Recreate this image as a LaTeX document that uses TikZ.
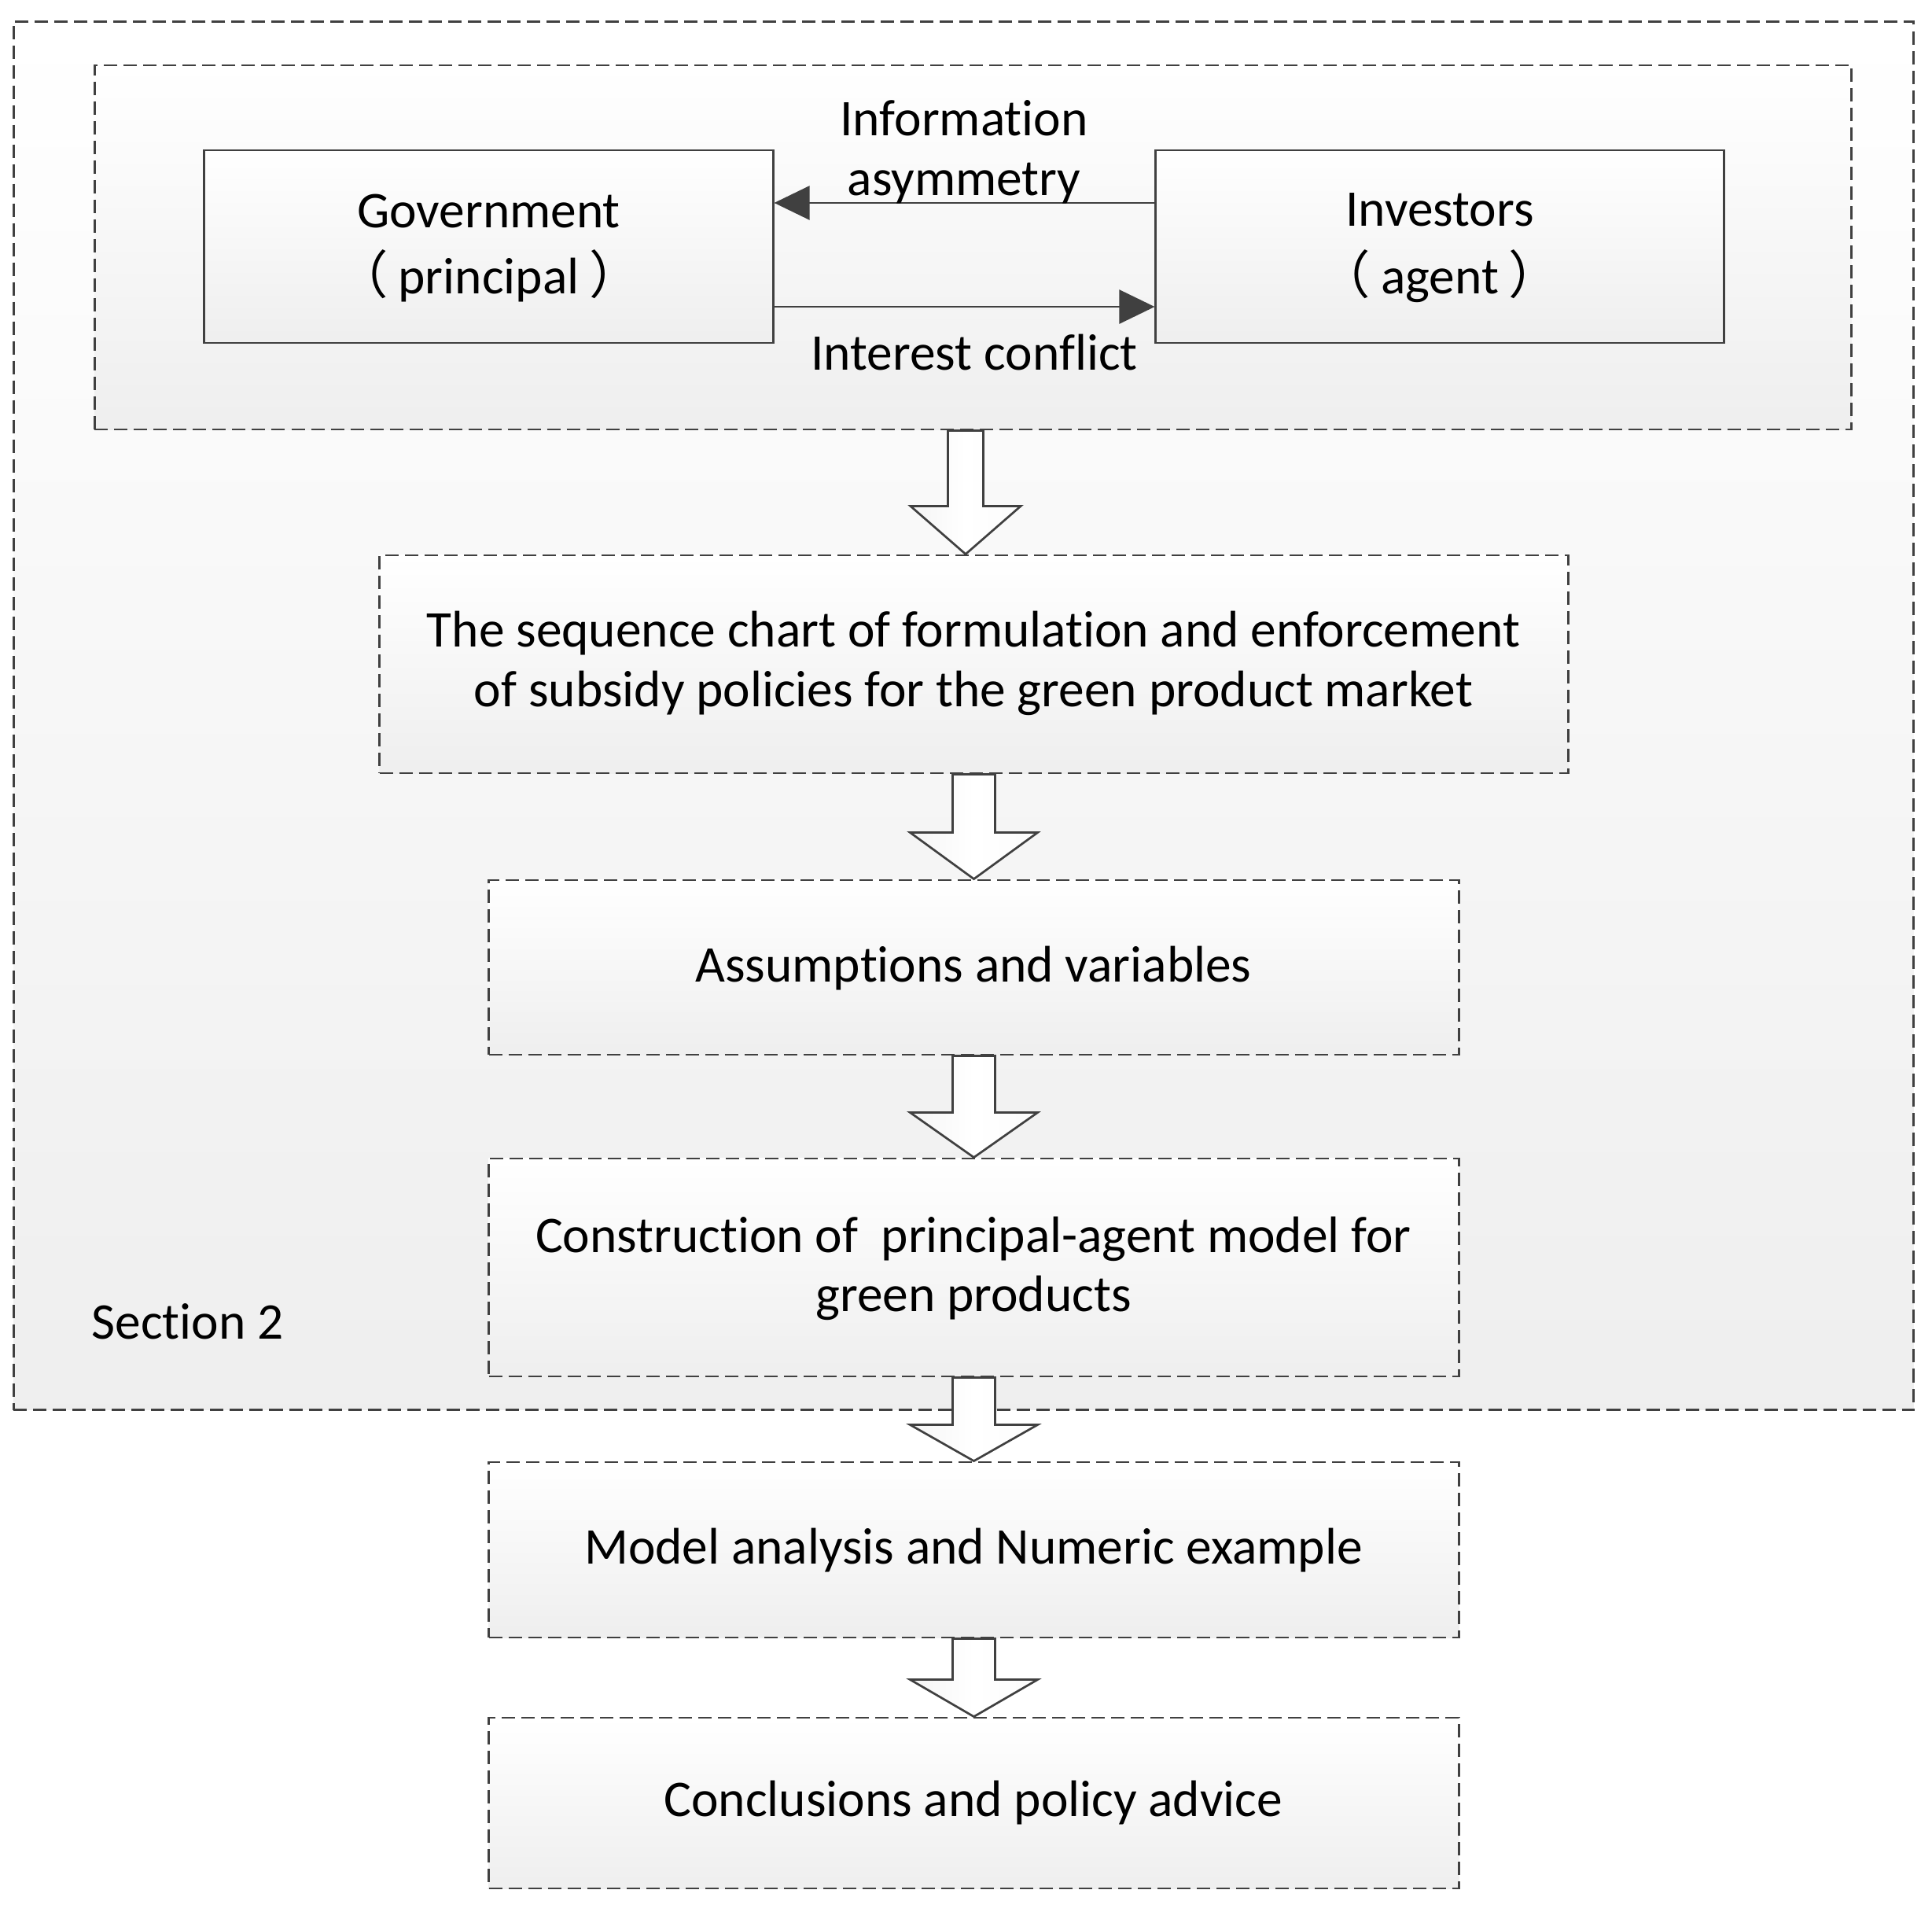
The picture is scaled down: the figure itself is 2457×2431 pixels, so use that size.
\documentclass[tikz,border=0pt]{standalone}
\usepackage{fontspec}
\setmainfont{Carlito}[Ligatures={NoCommon}]
\newfontfamily\cjk{Noto Sans CJK SC}
\usetikzlibrary{arrows.meta,calc}
\definecolor{lc}{HTML}{404040}
\tikzset{
  x=0.01cm, y=-0.01cm,
  dbox/.style={draw=lc, line width=0.027cm, dash pattern=on 0.17cm off 0.08cm,
    rectangle, inner sep=0, top color=white, bottom color=gray!13},
  sbox/.style={draw=lc, line width=0.027cm, rectangle, inner sep=0,
    top color=white, bottom color=gray!13},
  conn/.style={draw=lc, line width=0.027cm, -{Triangle[length=0.45cm,width=0.43cm]}},
  blk/.style={draw=lc, line width=0.027cm, line join=miter,
    left color=gray!8, right color=gray!3, middle color=white},
  txt/.style={inner sep=0, text=black, font=\fontsize{18.6pt}{21.34pt}\selectfont},
}
\newcommand\twolines[3][0pt]{\begin{tabular}[t]{@{}c@{}}#2\\[#1]#3\end{tabular}}
\newcommand\fwl{{\cjk （}\kern0.2em}
\newcommand\fwr{\kern0.2em{\cjk ）}}
\newcommand\blockarrow[5]{%
  \draw[blk] let \p1=(#1), \p2=(#2) in
    (\x1-#3,\y1) -- (\x1+#3,\y1) -- (\x1+#3,\y2+#5) -- (\x1+#4,\y2+#5)
    -- (\x1,\y2) -- (\x1-#4,\y2+#5) -- (\x1-#3,\y2+#5) -- cycle;}
\begin{document}
\begin{tikzpicture}
\useasboundingbox (0,0) rectangle (2457,2431);
% containers
\node[dbox, minimum width=24.15cm, minimum height=17.64cm] (sec) at (1225.5,910) {};
\node[dbox, minimum width=22.33cm, minimum height=4.63cm] (pa) at (1237.5,314.5) {};
% principal / agent
\node[sbox, minimum width=7.23cm, minimum height=2.45cm] (gov) at (621.5,313.5) {};
\node[sbox, minimum width=7.22cm, minimum height=2.45cm] (inv) at (1831,313.5) {};
\draw[conn] ([yshift=0.555cm]inv.west) -- ([yshift=0.555cm]gov.east);
\draw[conn] ([yshift=-0.765cm]gov.east) -- ([yshift=-0.765cm]inv.west);
% flow boxes
\node[dbox, minimum width=15.11cm, minimum height=2.77cm] (b2) at (1238.5,844.5) {};
\node[dbox, minimum width=12.33cm, minimum height=2.22cm] (b3) at (1238.5,1230) {};
\node[dbox, minimum width=12.33cm, minimum height=2.77cm] (b4) at (1238.5,1611.5) {};
\node[dbox, minimum width=12.33cm, minimum height=2.23cm] (b5) at (1238.5,1970.5) {};
\node[dbox, minimum width=12.33cm, minimum height=2.17cm] (b6) at (1238.5,2292.5) {};
% block arrows
\blockarrow{$(pa.south)+(-9.5,0)$}{b2.north}{0.225cm}{0.70cm}{0.61cm}
\blockarrow{b2.south}{b3.north}{0.27cm}{0.81cm}{0.59cm}
\blockarrow{b3.south}{b4.north}{0.27cm}{0.81cm}{0.57cm}
\blockarrow{b4.south}{b5.north}{0.27cm}{0.81cm}{0.46cm}
\blockarrow{b5.south}{b6.north}{0.27cm}{0.81cm}{0.47cm}
% texts
\node[txt, anchor=base] (tgov) at (621.5,290) {\twolines[1.4pt]{Government}{\fwl principal\fwr}};
\node[txt, anchor=base] (tinv) at (1831,288) {\twolines[2pt]{Investors}{\fwl agent\fwr}};
\node[txt, anchor=base] (tinfo) at (1226,173) {\twolines{Information}{asymmetry}};
\node[txt, anchor=base] (tint) at (1239,471) {Interest conflict};
\node[txt, anchor=base] (t2) at (1238,823) {\twolines{The sequence chart of formulation and enforcement}{of subsidy policies for the green product market}};
\node[txt, anchor=base] (t3) at (1238,1248) {Assumptions and variables};
\node[txt, anchor=base] (t4) at (1238,1592) {\twolines{Construction of \ principal-agent model for}{green products}};
\node[txt, anchor=base] (t5) at (1238,1988) {Model analysis and Numeric example};
\node[txt, anchor=base] (t6) at (1238,2309) {Conclusions and policy advice};
\node[txt, anchor=base west] (tsec) at (116,1702) {Section 2};
\end{tikzpicture}
\end{document}
